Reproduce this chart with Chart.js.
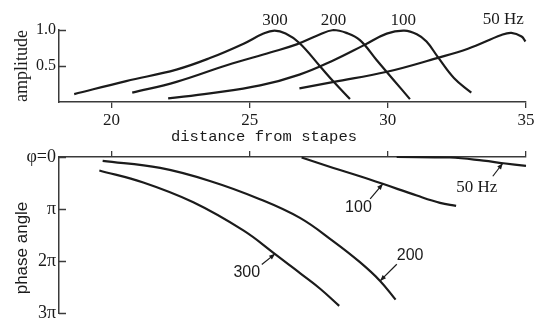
<!DOCTYPE html>
<html><head><meta charset="utf-8">
<script src="https://cdn.jsdelivr.net/npm/chart.js@4.4.1/dist/chart.umd.min.js"></script>
<style>
html,body{margin:0;padding:0;background:#fff;}
#wrap{position:relative;width:540px;height:327px;overflow:hidden;background:#fff;}
#c1{position:absolute;left:0;top:0;width:540px;height:148px;}
#c2{position:absolute;left:0;top:140px;width:540px;height:187px;}
</style></head><body>
<div id="wrap"><canvas id="c1" width="540" height="148"></canvas><canvas id="c2" width="540" height="187"></canvas></div>
<script>
// ---------- data ----------
const distTicks = [20, 25, 30, 35];
const ampTicks = [0.5, 1.0];
const phaseTicks = [0, 1, 2, 3];
const phaseTickLabels = ['\u03c6=0', '\u03c0', '2\u03c0', '3\u03c0'];
const seriesNames = ['300', '200', '100', '50 Hz'];

// amplitude vs distance from stapes (mm)
const ampX300 = [18.65, 20.53, 22.35, 23.56, 24.78, 25.5, 25.9, 26.3, 26.8, 27.56, 28.04, 28.63];
const amp300  = [0.11, 0.29, 0.45, 0.61, 0.81, 0.95, 0.99, 0.95, 0.82, 0.49, 0.28, 0.04];
const ampX200 = [20.75, 22.35, 24.17, 25.77, 26.7, 27.43, 28.03, 28.5, 28.99, 29.6, 30.2, 30.8];
const amp200  = [0.13, 0.28, 0.51, 0.69, 0.80, 0.92, 1.0, 0.96, 0.86, 0.58, 0.31, 0.04];
const ampX100 = [22.05, 23.56, 25.38, 26.8, 28.04, 29.14, 29.96, 30.6, 31.05, 31.4, 31.8, 32.4, 33.02];
const amp100  = [0.05, 0.12, 0.23, 0.38, 0.58, 0.79, 0.95, 0.99, 0.94, 0.84, 0.63, 0.33, 0.13];
const ampX50  = [26.8, 28.05, 29.97, 31.78, 32.9, 34.11, 34.47, 34.84, 34.98];
const amp50   = [0.19, 0.28, 0.42, 0.61, 0.74, 0.93, 0.96, 0.91, 0.84];

// phase angle (in units of pi) vs distance
const phX300 = [19.56, 21.15, 22.96, 24.77, 25.86, 26.82, 27.55, 28.24];
const ph300  = [0.26, 0.49, 0.87, 1.41, 1.84, 2.23, 2.53, 2.86];
const phX200 = [19.68, 21.76, 23.56, 25.37, 26.82, 28.03, 28.99, 29.72, 30.28];
const ph200  = [0.075, 0.21, 0.46, 0.81, 1.17, 1.62, 2.02, 2.38, 2.74];
const phX100 = [26.88, 28.03, 28.99, 29.84, 31.05, 31.89, 32.47];
const ph100  = [0.01, 0.21, 0.37, 0.52, 0.74, 0.88, 0.94];
const phX50  = [30.32, 32.25, 33.46, 34.18, 35.0];
const ph50   = [0.0, 0.01, 0.07, 0.12, 0.17];

// ---------- styling ----------
const serif = "'Liberation Serif', 'Times New Roman', serif";
const sans = "'Liberation Sans', Arial, sans-serif";
const mono = "'Liberation Mono', 'Courier New', monospace";
const INK = '#1b1b1b';
const AX = '#3a3a3a';

function pts(xs, ys) { return xs.map((x, i) => ({ x: x, y: ys[i] })); }
function ds(xs, ys) {
  return { data: pts(xs, ys), borderColor: INK, borderWidth: 2.2, pointRadius: 0,
           fill: false, tension: 0.4, clip: false };
}

const innerTicks = {
  id: 'innerTicks',
  afterDraw(chart) {
    const s = chart.scales.y, ctx = chart.ctx, L = chart.chartArea.left;
    ctx.save(); ctx.strokeStyle = AX; ctx.lineWidth = 1.5;
    s.ticks.forEach(t => {
      const y = Math.round(s.getPixelForValue(t.value)) + 0.5;
      ctx.beginPath(); ctx.moveTo(L, y); ctx.lineTo(L + 7, y); ctx.stroke();
    });
    ctx.restore();
  }
};

const curveLabels = {
  id: 'curveLabels',
  afterDraw(chart, args, opts) {
    const ctx = chart.ctx, xs = chart.scales.x, ys = chart.scales.y;
    ctx.save();
    (opts.items || []).forEach(it => {
      const px = xs.getPixelForValue(it.x), py = ys.getPixelForValue(it.y);
      if (it.arrow) {
        const tx = px + it.arrow[0], ty = py + it.arrow[1];
        ctx.strokeStyle = INK; ctx.fillStyle = INK; ctx.lineWidth = 1.2;
        ctx.beginPath(); ctx.moveTo(tx, ty); ctx.lineTo(px, py); ctx.stroke();
        const a = Math.atan2(py - ty, px - tx), L = 6, W = 2.4;
        ctx.beginPath();
        ctx.moveTo(px, py);
        ctx.lineTo(px - L * Math.cos(a) + W * Math.sin(a), py - L * Math.sin(a) - W * Math.cos(a));
        ctx.lineTo(px - L * Math.cos(a) - W * Math.sin(a), py - L * Math.sin(a) + W * Math.cos(a));
        ctx.closePath(); ctx.fill();
      }
      ctx.fillStyle = INK;
      ctx.font = it.font;
      ctx.textAlign = 'center'; ctx.textBaseline = 'middle';
      ctx.fillText(it.text, px + (it.dx || 0), py + (it.dy || 0));
    });
    (opts.texts || []).forEach(t => {
      ctx.save();
      ctx.translate(t.x, t.y); ctx.rotate(t.rot || 0);
      ctx.fillStyle = INK; ctx.font = t.font; ctx.textAlign = 'center'; ctx.textBaseline = 'middle';
      ctx.fillText(t.text, 0, 0);
      ctx.restore();
    });
    ctx.restore();
  }
};

const common = { responsive: false, animation: false, events: [] };

// ---------- top: amplitude ----------
new Chart(document.getElementById('c1'), {
  type: 'line',
  data: { datasets: [ds(ampX300, amp300), ds(ampX200, amp200), ds(ampX100, amp100), ds(ampX50, amp50)] },
  options: Object.assign({}, common, {
    layout: { padding: { top: 30, right: 14, left: 0, bottom: 0 } },
    plugins: {
      legend: { display: false }, tooltip: { enabled: false },
      curveLabels: {
        items: [
          { text: seriesNames[0], x: 25.92, y: 1.125, font: '17px ' + serif },
          { text: seriesNames[1], x: 28.03, y: 1.125, font: '17px ' + serif },
          { text: seriesNames[2], x: 30.56, y: 1.125, font: '17px ' + serif },
          { text: seriesNames[3], x: 34.18, y: 1.14, font: '17px ' + serif }
        ],
        texts: [
          { text: 'distance from stapes', x: 264, y: 137, font: '15.5px ' + mono }
        ]
      }
    },
    scales: {
      x: {
        type: 'linear', min: 18.1, max: 35, position: 'bottom',
        afterFit(s) { s.height = 46; },
        afterBuildTicks(s) { s.ticks = distTicks.map(v => ({ value: v })); },
        grid: { drawOnChartArea: false, drawTicks: true, tickLength: 6, color: AX, lineWidth: 1.3 },
        border: { display: true, color: AX, width: 1.5 },
        ticks: { font: { family: serif, size: 17 }, color: INK, padding: 2, maxRotation: 0, autoSkip: false,
                 callback: v => String(v) }
      },
      y: {
        type: 'linear', min: 0, max: 1,
        afterFit(s) { s.width = 59; },
        afterBuildTicks(s) { s.ticks = ampTicks.map(v => ({ value: v })); },
        grid: { display: true, drawOnChartArea: false, drawTicks: false },
        border: { display: true, color: AX, width: 1.5 },
        ticks: { font: { family: serif, size: 16 }, color: INK, padding: 3, callback: v => Number(v).toFixed(1) },
        title: { display: true, text: 'amplitude', font: { family: serif, size: 18 }, color: INK,
                 padding: { top: 11, bottom: 0 } }
      }
    }
  }),
  plugins: [innerTicks, curveLabels]
});

// ---------- bottom: phase ----------
new Chart(document.getElementById('c2'), {
  type: 'line',
  data: { datasets: [ds(phX300, ph300), ds(phX200, ph200), ds(phX100, ph100), ds(phX50, ph50)] },
  options: Object.assign({}, common, {
    layout: { padding: { top: 0, right: 14, left: 0, bottom: 10 } },
    plugins: {
      legend: { display: false }, tooltip: { enabled: false },
      curveLabels: {
        items: [
          { text: seriesNames[3], x: 34.16, y: 0.12, arrow: [-10, 13], dx: -26, dy: 24, font: '17px ' + serif },
          { text: seriesNames[2], x: 29.82, y: 0.515, arrow: [-12.7, 15], dx: -24.4, dy: 23.3, font: '16px ' + sans },
          { text: seriesNames[1], x: 29.72, y: 2.38, arrow: [16.7, -16.7], dx: 30, dy: -25, font: '16px ' + sans },
          { text: seriesNames[0], x: 25.92, y: 1.86, arrow: [-13.3, 10.7], dx: -28.3, dy: 19, font: '16px ' + sans }
        ],
        texts: [
          { text: 'phase angle', x: 22, y: 108, rot: -Math.PI / 2, font: '17px ' + sans }
        ]
      }
    },
    scales: {
      x: {
        type: 'linear', min: 18.1, max: 35, position: 'top',
        afterFit(s) { s.height = 17; },
        afterBuildTicks(s) { s.ticks = distTicks.map(v => ({ value: v })); },
        grid: { drawOnChartArea: false, drawTicks: true, tickLength: 6, color: AX, lineWidth: 1.3 },
        border: { display: true, color: AX, width: 1.5 },
        ticks: { display: false }
      },
      y: {
        type: 'linear', min: 0, max: 3, reverse: true,
        afterFit(s) { s.width = 59; },
        afterBuildTicks(s) { s.ticks = phaseTicks.map(v => ({ value: v })); },
        grid: { display: true, drawOnChartArea: false, drawTicks: false },
        border: { display: true, color: AX, width: 1.5 },
        ticks: { font: { family: serif, size: 18 }, color: INK, padding: 3,
                 callback: (v, i) => phaseTickLabels[i] }
      }
    }
  }),
  plugins: [innerTicks, curveLabels]
});
</script>
</body></html>
